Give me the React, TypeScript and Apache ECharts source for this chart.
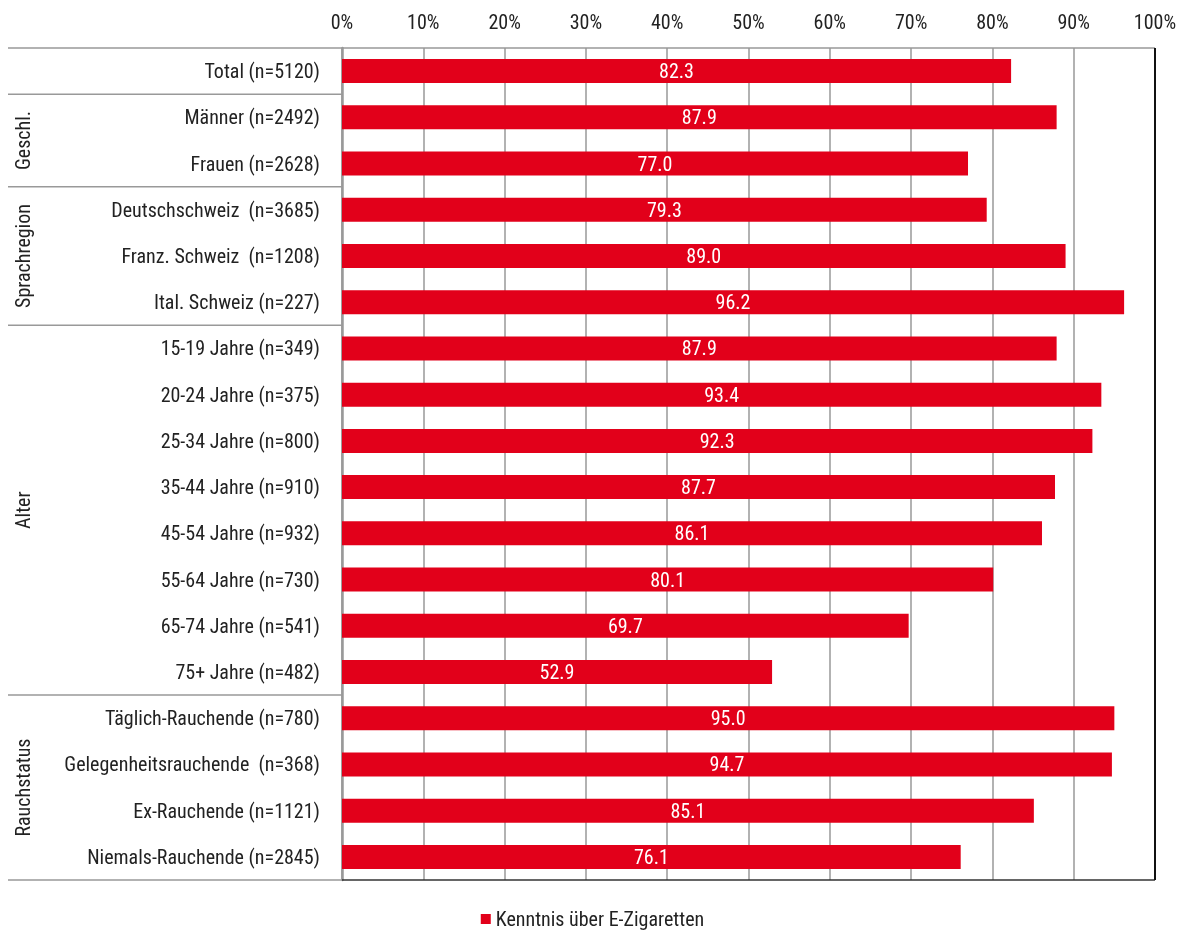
import React, { useEffect, useRef } from "react";
import * as echarts from "echarts";

const categories = [
  "Total (n=5120)",
  "Männer (n=2492)",
  "Frauen (n=2628)",
  "Deutschschweiz  (n=3685)",
  "Franz. Schweiz  (n=1208)",
  "Ital. Schweiz (n=227)",
  "15-19 Jahre (n=349)",
  "20-24 Jahre (n=375)",
  "25-34 Jahre (n=800)",
  "35-44 Jahre (n=910)",
  "45-54 Jahre (n=932)",
  "55-64 Jahre (n=730)",
  "65-74 Jahre (n=541)",
  "75+ Jahre (n=482)",
  "Täglich-Rauchende (n=780)",
  "Gelegenheitsrauchende  (n=368)",
  "Ex-Rauchende (n=1121)",
  "Niemals-Rauchende (n=2845)",
];

const values = [82.3, 87.9, 77.0, 79.3, 89.0, 96.2, 87.9, 93.4, 92.3, 87.7, 86.1, 80.1, 69.7, 52.9, 95.0, 94.7, 85.1, 76.1];

const seriesName = "Kenntnis über E-Zigaretten";

// groups: [label, first index, last index]
const groups: [string, number, number][] = [
  ["", 0, 0],
  ["Geschl.", 1, 2],
  ["Sprachregion", 3, 5],
  ["Alter", 6, 13],
  ["Rauchstatus", 14, 17],
];

const FONT = "'Roboto Condensed', 'Liberation Sans Narrow', 'Arial Narrow', sans-serif";
const RED = "#E2001A";

export default function App() {
  const ref = useRef<HTMLDivElement>(null);
  useEffect(() => {
    if (!ref.current) return;
    const chart = echarts.init(ref.current, undefined, { renderer: "svg" });
    const gridLeft = 342;
    const gridRight = 30;
    const gridTop = 48;
    const gridBottom = 58;
    chart.setOption({
      animation: false,
      textStyle: { fontFamily: FONT },
      grid: { left: gridLeft, right: gridRight, top: gridTop, bottom: gridBottom, containLabel: false },
      legend: {
        bottom: 4,
        left: "center",
        icon: "rect",
        itemWidth: 10,
        itemHeight: 10,
        itemGap: 3,
        textStyle: { fontFamily: FONT, fontSize: 20, color: "#222" },
        data: [seriesName],
      },
      xAxis: {
        type: "value",
        position: "top",
        min: 0,
        max: 100,
        interval: 10,
        axisLine: { show: false },
        axisTick: { show: false },
        axisLabel: { formatter: "{value}%", fontSize: 20, color: "#222", fontFamily: FONT, margin: 16 },
        splitLine: { show: true, lineStyle: { color: "#999", width: 1.5 } },
      },
      yAxis: {
        type: "category",
        inverse: true,
        data: categories,
        axisLine: { show: true, lineStyle: { color: "#999", width: 2.5 } },
        axisTick: { show: false },
        axisLabel: { fontSize: 20, color: "#222", fontFamily: FONT, margin: 22 },
      },
      series: [
        {
          name: seriesName,
          type: "bar",
          data: values,
          barWidth: 24,
          itemStyle: { color: RED },
          label: {
            show: true,
            position: "inside",
            color: "#fff",
            fontSize: 20,
            fontFamily: FONT,
            formatter: (p: any) => Number(p.value).toFixed(1),
          },
          z: 3,
        },
      ],
    });

    const yOf = (i: number) => chart.convertToPixel({ yAxisIndex: 0 }, i) as number;
    const step = yOf(1) - yOf(0);
    const top = yOf(0) - step / 2;
    const bottom = yOf(categories.length - 1) + step / 2;
    const x0 = chart.convertToPixel({ xAxisIndex: 0 }, 0) as number;
    const x100 = chart.convertToPixel({ xAxisIndex: 0 }, 100) as number;
    const leftEdge = 8;

    const elements: any[] = [];
    elements.push({ type: "line", shape: { x1: leftEdge, y1: top, x2: x100, y2: top }, style: { stroke: "#999", lineWidth: 1.5 }, z: 10 });
    elements.push({ type: "line", shape: { x1: leftEdge, y1: bottom, x2: x0, y2: bottom }, style: { stroke: "#999", lineWidth: 1.5 }, z: 10 });
    elements.push({ type: "line", shape: { x1: x0, y1: bottom, x2: x100, y2: bottom }, style: { stroke: "#333", lineWidth: 1.5 }, z: 10 });
    elements.push({ type: "line", shape: { x1: x100, y1: top, x2: x100, y2: bottom }, style: { stroke: "#111", lineWidth: 2 }, z: 10 });
    groups.forEach(([label, a, b], gi) => {
      const gBottom = yOf(b) + step / 2;
      if (gi < groups.length - 1) {
        elements.push({ type: "line", shape: { x1: leftEdge, y1: gBottom, x2: x0, y2: gBottom }, style: { stroke: "#999", lineWidth: 1.5 }, z: 10 });
      }
      if (label) {
        const cy = (yOf(a) + yOf(b)) / 2;
        elements.push({
          type: "text",
          x: 23,
          y: cy,
          rotation: Math.PI / 2,
          style: { text: label, fontSize: 20, fontFamily: FONT, fill: "#222", align: "center", verticalAlign: "middle" },
          z: 10,
        });
      }
    });
    chart.setOption({ graphic: { elements } });

    return () => chart.dispose();
  }, []);
  return <div ref={ref} style={{ position: "fixed", left: 0, top: 0, width: 1185, height: 938 }} />;
}
